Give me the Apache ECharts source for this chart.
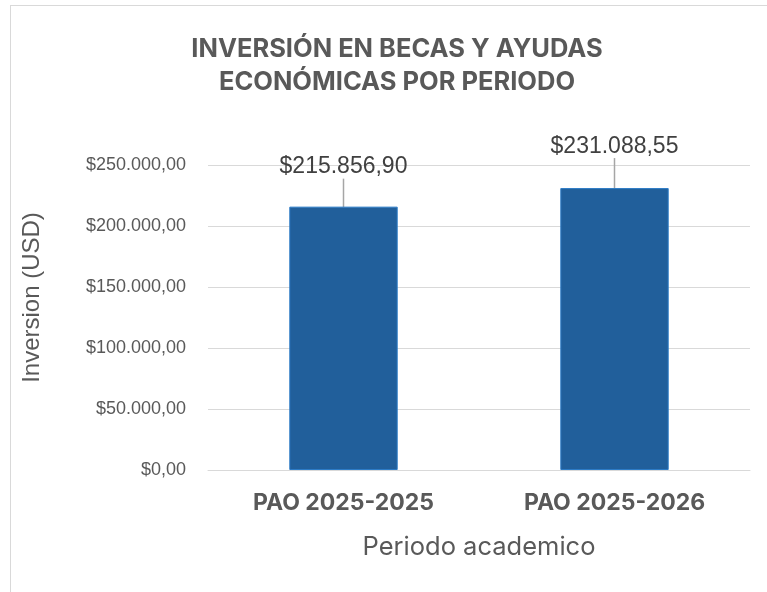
<!DOCTYPE html>
<html>
<head>
<meta charset="utf-8">
<script src="https://cdn.jsdelivr.net/npm/echarts@6/dist/echarts.min.js"></script>
<style>
  html, body { margin: 0; padding: 0; background: #fff; }
  #frame { position: absolute; left: 10px; top: 5px; width: 800px; height: 650px; border: 1px solid #d9d9d9; box-sizing: border-box; }
  #chart { position: absolute; left: 0; top: 0; width: 767px; height: 592px; }
</style>
</head>
<body>
<div id="frame"></div>
<div id="chart"></div>
<script>
// datos del grafico
var periodos = ['PAO 2025-2025', 'PAO 2025-2026'];
var inversion = [215856.90, 231088.55];
var desplazamiento = [-26, -28]; // subida de la etiqueta sobre la barra

function formatoUSD(v) {
    var partes = v.toFixed(2).split('.');
    var entero = partes[0].replace(/\B(?=(\d{3})+(?!\d))/g, '.');
    return '$' + entero + ',' + partes[1];
}

var myChart = echarts.init(document.getElementById('chart'));
myChart.setOption({
    animation: false,
    title: {
        text: 'INVERSIÓN EN BECAS Y AYUDAS\nECONÓMICAS POR PERIODO',
        left: 392,
        textAlign: 'center',
        top: 28,
        textStyle: {
            fontFamily: 'Inter',
            fontWeight: 'bold',
            fontSize: 25.5,
            lineHeight: 33,
            color: '#595959'
        }
    },
    grid: { left: 208, right: 17, top: 165, bottom: 122 },
    xAxis: {
        type: 'category',
        data: periodos,
        axisTick: { show: false },
        axisLine: { lineStyle: { color: '#d9d9d9' } },
        axisLabel: {
            margin: 22,
            fontFamily: 'Inter',
            fontWeight: 'bold',
            fontSize: 23,
            color: '#595959'
        },
        name: 'Periodo academico',
        nameLocation: 'middle',
        nameGap: 64,
        nameTextStyle: { fontFamily: 'Inter', fontSize: 25.5, color: '#595959' }
    },
    yAxis: {
        type: 'value',
        min: 0,
        max: 250000,
        interval: 50000,
        axisLabel: {
            margin: 22,
            fontFamily: 'Liberation Sans',
            fontSize: 18,
            color: '#595959',
            formatter: function (v) { return formatoUSD(v); }
        },
        splitLine: { lineStyle: { color: '#d9d9d9' } },
        name: 'Inversion (USD)',
        nameLocation: 'middle',
        nameGap: 164,
        nameTextStyle: { fontFamily: 'Liberation Sans', fontSize: 24, color: '#595959', padding: [0, 0, 0, 40] }
    },
    series: [{
        type: 'bar',
        barWidth: '40%',
        data: inversion,
        itemStyle: { color: '#215f9b', borderColor: '#2c7bc6', borderWidth: 1 },
        label: {
            show: true,
            position: 'top',
            distance: 2,
            fontFamily: 'Liberation Sans',
            fontSize: 23,
            color: '#404040',
            formatter: function (p) { return formatoUSD(p.value); }
        },
        labelLine: { show: true, lineStyle: { color: '#a6a6a6', width: 1.5 } },
        labelLayout: function (p) {
            return { dy: desplazamiento[p.dataIndex] };
        }
    }]
});
</script>
</body>
</html>
